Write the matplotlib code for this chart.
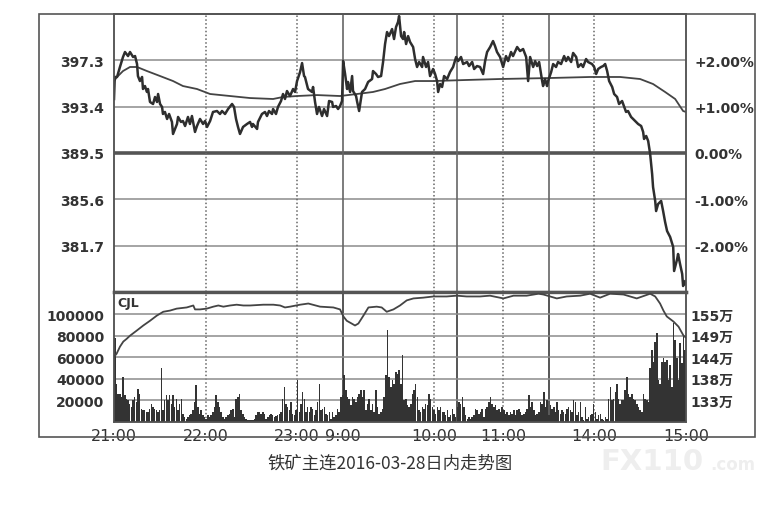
import numpy as np
import matplotlib
matplotlib.use("Agg")
import matplotlib.pyplot as plt
from matplotlib.patches import Rectangle

plt.rcParams['font.family'] = ['DejaVu Sans', 'Noto Sans CJK SC']

# trading minutes from 21:00 (night 21:00-23:30, 9:00-10:15, 10:30-11:30, 13:30-15:00)
base_price = 389.5
tick_pos = [0, 60, 120, 150, 210, 255, 315, 375]
tick_lab = ["21:00", "22:00", "23:00", "9:00", "10:00", "11:00", "14:00", "15:00"]
solid_breaks = [150, 225, 285]
dotted_hours = [60, 120, 210, 255, 315]
price_ticks = [381.7, 385.6, 389.5, 393.4, 397.3]
vol_ticks = [20000, 40000, 60000, 80000, 100000]
oi_ticks = [133, 138.5, 144, 149.5, 155]

price_t = [0, 0.5, 2.0, 3.9, 5.9, 7.2, 9.2, 10.5, 12.5, 13.8, 15.1, 15.7, 17.0, 18.4, 19.0, 20.3,
           21.6, 22.3, 23.6, 25.6, 26.9, 28.2, 28.9, 30.2, 31.5, 32.1, 33.4, 34.8, 36.1, 38.0, 38.7,
           41.3, 42.0, 43.9, 45.2, 46.6, 48.5, 49.8, 51.1, 53.1, 54.4, 56.4, 58.4, 59.7, 61.0, 63.0,
           64.9, 67.5, 69.5, 70.8, 72.8, 74.8, 77.4, 78.7, 80.0, 81.3, 82.6, 84.6, 87.2, 89.2, 90.5,
           91.1, 93.8, 94.4, 97.0, 99.0, 100.3, 101.6, 103.6, 104.3, 106.2, 107.5, 109.5, 110.8,
           112.1, 113.4, 115.4, 117.4, 118.7, 120.0, 122.0, 123.3, 124.6, 125.2, 127.2, 129.8, 130.5,
           131.8, 133.1, 134.4, 136.4, 137.7, 139.7, 141.0, 143.0, 143.6, 145.6, 146.9, 148.2, 149.5,
           150.2, 151.5, 152.8, 153.4, 154.8, 156.1, 156.7, 158.7, 159.3, 160.7, 162.6, 164.6, 166.6,
           169.2, 169.8, 171.8, 173.1, 175.1, 176.4, 177.7, 179.0, 180.3, 182.3, 183.6, 184.9, 186.2,
           186.9, 188.2, 189.5, 190.2, 191.5, 192.8, 194.1, 196.1, 197.4, 198.7, 200.0, 202.0, 202.6,
           204.6, 205.9, 207.2, 209.2, 210.5, 211.8, 212.5, 213.8, 215.1, 216.4, 218.4, 220.3, 222.3,
           224.3, 225.6, 227.5, 228.9, 231.5, 232.8, 234.8, 236.1, 238.0, 240.0, 242.0, 243.3, 244.6,
           246.6, 248.5, 249.8, 251.1, 253.1, 255.1, 257.0, 258.4, 260.3, 261.6, 264.3, 266.2, 268.2,
           270.2, 271.5, 272.8, 274.8, 276.1, 277.4, 278.7, 280.7, 281.3, 282.6, 283.9, 284.6, 286.6,
           287.9, 289.8, 291.1, 293.1, 295.1, 296.4, 297.7, 299.7, 301.0, 303.0, 304.3, 306.2, 307.5,
           309.5, 310.8, 313.4, 314.8, 316.1, 317.4, 319.3, 320.7, 322.0, 323.3, 324.6, 326.6, 327.9,
           329.8, 331.1, 333.1, 333.8, 335.7, 337.0, 339.0, 340.3, 342.3, 343.6, 345.6, 346.9, 347.5,
           348.9, 350.2, 351.5, 352.8, 353.4, 354.8, 355.4, 356.7, 358.7, 360.0, 361.3, 362.6, 364.6,
           366.6, 367.2, 369.2, 369.8, 371.1, 372.5, 373.1, 374.4, 375.0]
price_v = [394.04, 395.89, 395.89, 396.73, 397.57, 397.99, 397.65, 397.99, 397.57, 397.65, 396.98,
           395.97, 395.55, 395.89, 394.88, 395.13, 394.63, 394.88, 393.79, 393.62, 394.21, 393.79,
           394.46, 393.62, 393.37, 392.78, 392.95, 392.36, 392.78, 392.11, 391.10, 391.94, 392.53,
           392.11, 392.19, 391.77, 392.53, 391.94, 392.61, 391.27, 391.77, 392.36, 391.94, 392.19,
           391.69, 392.19, 392.95, 393.03, 392.78, 393.03, 392.78, 393.20, 393.62, 393.37, 392.36,
           391.69, 391.10, 391.69, 391.94, 392.11, 391.69, 391.94, 391.52, 392.11, 392.78, 392.95,
           392.61, 393.03, 392.78, 393.20, 392.78, 393.37, 393.87, 394.46, 394.04, 394.71, 394.29,
           394.88, 394.63, 395.55, 396.31, 397.06, 395.97, 395.89, 394.88, 394.63, 395.05, 393.79,
           392.78, 393.37, 392.61, 393.20, 392.61, 393.87, 393.79, 393.37, 393.45, 393.20, 393.45,
           393.87, 397.23, 396.14, 394.88, 395.47, 394.63, 395.97, 394.71, 394.29, 393.87, 393.03,
           394.63, 394.88, 395.47, 395.72, 396.39, 396.14, 395.89, 395.97, 397.15, 398.66, 399.67,
           399.33, 399.92, 399.08, 400.09, 400.51, 401.01, 399.33, 399.08, 399.67, 398.66, 399.33,
           398.83, 398.41, 397.40, 396.73, 397.15, 396.73, 397.57, 396.73, 397.15, 395.97, 396.56,
           396.14, 395.55, 394.63, 395.30, 395.05, 395.97, 395.72, 396.31, 396.73, 397.57, 397.23,
           397.57, 396.98, 397.15, 396.81, 397.15, 396.56, 396.81, 396.73, 396.14, 397.23, 397.99,
           398.41, 398.91, 398.49, 397.99, 397.57, 396.73, 397.65, 397.23, 397.99, 397.65, 398.41,
           398.07, 398.24, 397.57, 395.55, 397.57, 396.73, 397.23, 396.81, 397.15, 395.55, 395.13,
           395.72, 395.13, 395.55, 396.31, 396.98, 396.73, 397.15, 396.98, 397.65, 397.23, 397.57,
           397.15, 397.91, 397.57, 396.73, 396.98, 396.73, 397.40, 397.15, 396.98, 396.73, 396.14,
           396.56, 396.73, 396.81, 396.98, 396.39, 395.55, 395.05, 394.46, 394.21, 393.62, 393.87,
           393.62, 392.95, 393.03, 392.53, 392.36, 392.11, 391.94, 391.77, 391.27, 390.68, 390.93,
           390.51, 389.42, 387.73, 386.64, 385.47, 384.62, 385.21, 385.47, 384.62, 383.70, 382.94,
           382.44, 381.60, 379.58, 380.59, 381.01, 380.17, 379.33, 378.32, 378.74, 378.49]

avg_t = [0, 2.0, 5.9, 10.5, 15.1, 21.6, 30.2, 38.7, 45.2, 54.4, 63.0, 76.1, 89.2, 104.3, 110.8,
         120.0, 133.1, 148.2, 159.3, 169.8, 177.7, 187.5, 197.4, 209.2, 231.5, 253.1, 284.6,
         312.1, 331.8, 344.9, 353.4, 361.3, 367.9, 373.1, 375.0]
avg_v = [395.55, 395.89, 396.39, 396.73, 396.73, 396.39, 395.97, 395.55, 395.13, 394.88, 394.46,
         394.29, 394.12, 394.04, 394.21, 394.29, 394.37, 394.29, 394.46, 394.63, 394.88, 395.30,
         395.55, 395.55, 395.64, 395.72, 395.80, 395.89, 395.89, 395.72, 395.30, 394.63, 394.04,
         393.03, 392.95]

# volume (hands), in time order across the whole day
vol = [77500, 35650, 26350, 26350, 23250, 41850, 24800, 21700, 20150, 17050, 13950, 20150, 23250,
       18600, 31000, 26350, 12400, 10850, 10850, 9300, 9300, 12400, 17050, 13950, 12400, 10850,
       9300, 10850, 49600, 10850, 20150, 24800, 20150, 24800, 17050, 24800, 13950, 21700, 10850,
       17050, 21700, 7750, 4650, 3100, 4650, 6200, 7750, 10850, 18600, 34100, 13950, 7750, 10850,
       6200, 4650, 3100, 6200, 4650, 6200, 9300, 13950, 24800, 18600, 13950, 9300, 4650, 3100,
       4650, 6200, 7750, 10850, 12400, 4650, 21700, 23250, 26350, 10850, 7750, 4650, 3100, 1550,
       1550, 1550, 2170, 3100, 6200, 9300, 9300, 7750, 9300, 7750, 3100, 4650, 6200, 7750, 6200,
       4650, 5270, 6200, 7750, 9300, 21700, 32550, 17050, 13950, 10850,
       18600, 7750, 6200, 10850, 38750, 9300, 17050, 27900, 21700, 9300, 13950, 9300, 13950,
       12400, 6200, 10850, 18600, 35650, 10850, 12400, 13950, 7750, 6200, 9300, 3100, 9300, 4650,
       6200, 12400, 9300, 23250, 24800, 43400, 29450, 23250, 21700, 15500, 23250, 21700, 18600,
       23250, 26350, 29450, 23250, 29450, 10850, 17050, 21700, 10850, 17050, 9300, 29450, 13950,
       7750, 9300, 12400, 23250, 43400, 85250, 41850, 32550, 38750, 35650, 46500, 44950, 48050,
       35650, 62000, 20150, 21700, 15500, 13950, 17050, 26350, 29450, 35650, 23250, 10850, 9300,
       13950, 12400, 17050, 15500, 26350, 21700, 13950, 10850, 7750, 13950, 10850, 13950, 9300,
       9300, 6200, 10850, 4650, 6200, 12400, 7750, 4650, 13950, 18600, 17050, 23250, 13950, 6200,
       3100, 4650, 3100, 4650, 6200, 12400, 10850, 7750, 9300, 12400, 4650, 12400, 13950, 18600,
       23250, 17050, 13950, 15500, 10850, 12400, 9300, 13950, 10850, 7750, 9300, 6200, 9300, 7750,
       10850, 6200, 10850, 12400, 9300, 6200, 7750, 9300, 12400, 24800, 13950, 18600, 10850, 6200,
       7750, 9300,
       18600, 17050, 27900, 13950, 20150, 6200, 15500, 12400, 13950, 9300, 18600, 10850, 7750,
       10850, 9300, 7750, 12400, 13950, 10850, 9300, 20150, 18600, 6200, 9300, 18600, 4650, 1550,
       13950, 3100, 4650, 6200, 7750, 17050, 9300, 3100, 6200, 7750, 3100, 1550, 4650, 3100, 21700,
       32550, 20150, 21700, 27900, 35650, 21700, 17050, 20150, 20150, 29450, 41850, 26350, 23250,
       26350, 21700, 20150, 17050, 13950, 10850, 9300, 26350, 21700, 20150, 18600, 49600, 66650,
       55800, 74400, 82150, 38750, 35650, 55800, 58900, 55800, 57350, 38750, 52700, 32550, 91450,
       75950, 58900, 38750, 72850, 54250, 80600, 66650]

# open interest (10k hands)
oi_t = [0, 1.7, 3.9, 6.1, 8.3, 10.5, 14.9, 19.2, 23.6, 28.0, 32.3, 36.7, 41.1, 47.7, 52.0, 53.1,
        56.4, 60.8, 65.1, 68.4, 71.7, 76.1, 80.4, 84.8, 89.2, 97.9, 104.5, 108.9, 112.1, 115.4,
        122.0, 127.4, 135.1, 143.8, 148.2, 150.4, 152.6, 155.8, 158.0, 160.2, 163.5, 166.8, 172.2,
        175.5, 178.8, 183.2, 187.5, 191.9, 196.3, 202.8, 209.4, 218.1, 224.7, 231.2, 240.0, 246.5,
        255.3, 261.9, 270.6, 278.3, 281.5, 290.3, 296.8, 305.6, 312.1, 318.7, 325.2, 334.0, 342.7,
        351.5, 354.8, 358.0, 360.2, 362.4, 366.8, 370.1, 373.4, 375.0]
oi_v = [144.1, 144.9, 146.7, 148.0, 148.7, 149.5, 150.8, 152.1, 153.3, 154.6, 155.6, 155.9, 156.4,
        156.7, 157.2, 156.2, 156.2, 156.4, 156.9, 157.2, 156.9, 157.2, 157.4, 157.2, 157.2, 157.4,
        157.4, 157.2, 156.7, 156.9, 157.4, 157.7, 156.9, 156.7, 156.2, 154.4, 153.3, 152.6, 152.1,
        152.6, 154.6, 156.7, 156.9, 156.7, 155.6, 156.2, 157.2, 158.5, 159.0, 159.2, 159.5, 159.5,
        159.7, 159.5, 159.5, 159.7, 159.0, 159.7, 159.7, 160.2, 160.0, 159.0, 159.5, 159.7, 160.2,
        159.2, 160.2, 160.0, 159.0, 160.2, 159.5, 157.7, 155.9, 154.4, 153.1, 151.8, 149.5, 149.0]

ink = '#333333'
grid_c = '#8c8c8c'

fig = plt.figure(figsize=(7.84, 5.10), dpi=100)
L, R = 114 / 784, 686 / 784
ax = fig.add_axes([L, 1 - 293 / 510, R - L, (293 - 15) / 510])
axv = fig.add_axes([L, 1 - 423 / 510, R - L, (423 - 293) / 510])

# price panel
ax.set_xlim(0, 375)
ax.set_ylim(base_price * 0.97, base_price * 1.03)
for p in price_ticks:
    if p == base_price:
        ax.axhline(p, color='#555555', lw=2.6, zorder=1)
    else:
        ax.axhline(p, color=grid_c, lw=1.1, zorder=1)
for x in solid_breaks:
    ax.axvline(x, color='#666666', lw=1.2, zorder=1)
    axv.axvline(x, color='#555555', lw=1.4, zorder=1)
for x in dotted_hours:
    ax.axvline(x, color='#666666', lw=1.1, ls=(0, (1, 1.5)), zorder=1)
    axv.axvline(x, color='#666666', lw=1.1, ls=(0, (1, 1.5)), zorder=1)

ax.plot(avg_t, avg_v, color='#444444', lw=1.3, zorder=3)
ax.plot(price_t, price_v, color='#2e2e2e', lw=1.8, zorder=4)

ax.set_yticks(price_ticks)
ax.set_yticklabels([f"{p:.1f}" for p in price_ticks])
ax.set_xticks([])
ax2 = ax.twinx()
ax2.set_ylim(ax.get_ylim())
ax2.set_yticks(price_ticks)
pct_lab = []
for p in price_ticks:
    pct = round((p - base_price) / base_price * 100, 2)
    pct_lab.append(f"+{pct:.2f}%" if pct > 0 else f"{abs(pct):.2f}%" if pct == 0 else f"{pct:.2f}%")
ax2.set_yticklabels(pct_lab)

# volume panel
vol_x = np.linspace(0, 375, len(vol), endpoint=False) + 0.5
axv.bar(vol_x, vol, width=1.0, color='#333333', lw=0, zorder=3)
axv.set_xlim(0, 375)
vmax = 120500
axv.set_ylim(0, vmax)
for v in vol_ticks:
    axv.axhline(v, color=grid_c, lw=1.1, zorder=1)
axv.set_yticks(vol_ticks)
axv.set_yticklabels([str(v) for v in vol_ticks])
axv.set_xticks(tick_pos)
axv.set_xticklabels(tick_lab)

axo = axv.twinx()
oi_low = 127.5
axo.set_ylim(oi_low, oi_low + vmax / 20000 * 5.5)
axo.plot(oi_t, oi_v, color='#444444', lw=1.3, zorder=3)
axo.set_yticks(oi_ticks)
axo.set_yticklabels([f"{int(v)}万" for v in oi_ticks])
axv.text(0.006, 0.97, "CJL", transform=axv.transAxes, ha='left', va='top',
         fontsize=9, fontweight='bold', color=ink)

for a in (ax, ax2, axv, axo):
    a.tick_params(axis='both', length=0, colors=ink)
    for s in a.spines.values():
        s.set_color('#555555')
        s.set_linewidth(1.1)
for a in (ax, axv):
    a.tick_params(axis='y', pad=7)
    for lab in a.get_yticklabels():
        lab.set_fontsize(10)
        lab.set_fontweight('bold')
for a in (ax2, axo):
    a.tick_params(axis='y', pad=6)
    for lab in a.get_yticklabels():
        lab.set_fontsize(10)
        lab.set_fontweight('bold')
axo.tick_params(axis='y', pad=3)
for lab in axo.get_yticklabels():
    lab.set_family(['DejaVu Sans', 'Noto Sans CJK SC'])
axv.tick_params(axis='x', pad=4)
for lab in axv.get_xticklabels():
    lab.set_fontsize(11.5)
ax.spines['bottom'].set_linewidth(2.4)
axv.spines['top'].set_linewidth(2.4)

# outer frame
fig.patches.append(Rectangle((39 / 784, 1 - 438 / 510), (755 - 39) / 784, (438 - 15) / 510,
                             transform=fig.transFigure, fill=False, ec='#555555', lw=1.2))

fig.text(390 / 784, 1 - 464 / 510, "铁矿主连2016-03-28日内走势图", ha='center', va='center',
         fontsize=12.5, color='#333333', family=['Noto Sans CJK SC', 'DejaVu Sans'])
# faint watermark
fig.text(600 / 784, 1 - 462 / 510, "FX110", ha='left', va='center', fontsize=21,
         fontweight='bold', color='#eeeeee')
fig.text(710 / 784, 1 - 465 / 510, ".com", ha='left', va='center', fontsize=12,
         fontweight='bold', color='#eeeeee')

fig.savefig("out.png", dpi=100)
